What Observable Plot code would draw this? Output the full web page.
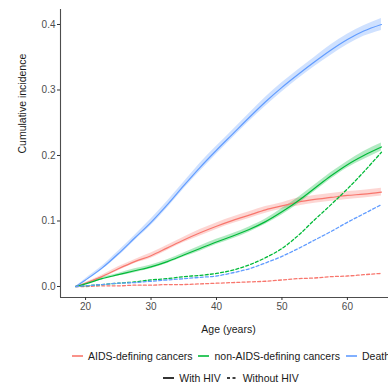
<!DOCTYPE html>
<html>
<head>
<meta charset="utf-8">
<script src="https://cdn.jsdelivr.net/npm/d3@7"></script>
<script src="https://cdn.jsdelivr.net/npm/@observablehq/plot@0.6"></script>
<style>
  html, body { margin: 0; padding: 0; background: #fff; overflow: hidden; width: 388px; height: 383px; }
  #wrap { position: relative; width: 462px; font-family: "Liberation Sans", Arial, sans-serif; }
  .row { display: flex; justify-content: center; align-items: center; font-size: 10.5px; color: #1a1a1a; white-space: nowrap; height: 22px; }
  .item { display: flex; align-items: center; margin: 0 3px; }
  .item svg { margin-right: 5px; }
</style>
</head>
<body>
<div id="wrap">
  <div id="chart"></div>
  <div id="legend"></div>
</div>
<script>
// ---- data ----
const ages = [18.5, 20, 22.5, 25, 27.5, 30, 32.5, 35, 37.5, 40, 42.5, 45, 47.5, 50, 52.5, 55, 57.5, 60, 62.5, 65.2];

const outcomes = ["AIDS-defining cancers", "non-AIDS-defining cancers", "Death"];
const outcomeColors = ["#F8766D", "#00BA38", "#619CFF"];
const groups = ["With HIV", "Without HIV"];
const xTitle = "Age (years)";
const yTitle = "Cumulative incidence";

// With HIV
const aidsHIV    = [0, 0.005, 0.015, 0.027, 0.038, 0.047, 0.059, 0.071, 0.082, 0.092, 0.101, 0.109, 0.117, 0.123, 0.129, 0.133, 0.136, 0.139, 0.141, 0.144];
const nonAidsHIV = [0, 0.004, 0.012, 0.018, 0.024, 0.030, 0.038, 0.048, 0.058, 0.068, 0.077, 0.087, 0.099, 0.114, 0.131, 0.150, 0.169, 0.186, 0.200, 0.213];
const deathHIV   = [0, 0.010, 0.028, 0.050, 0.074, 0.098, 0.125, 0.154, 0.182, 0.208, 0.233, 0.258, 0.282, 0.304, 0.324, 0.343, 0.361, 0.377, 0.390, 0.400];

// Confidence band half-widths (with HIV)
const aidsCI    = [0, 0.001, 0.002, 0.003, 0.003, 0.004, 0.004, 0.004, 0.005, 0.005, 0.005, 0.005, 0.005, 0.005, 0.006, 0.006, 0.006, 0.006, 0.006, 0.006];
const nonAidsCI = [0, 0.001, 0.002, 0.002, 0.003, 0.003, 0.003, 0.003, 0.004, 0.004, 0.004, 0.004, 0.004, 0.005, 0.005, 0.005, 0.005, 0.005, 0.006, 0.006];
const deathCI   = [0, 0.002, 0.003, 0.004, 0.004, 0.005, 0.005, 0.005, 0.006, 0.006, 0.006, 0.006, 0.007, 0.007, 0.007, 0.007, 0.008, 0.008, 0.008, 0.009];

// Without HIV
const aidsNoHIV    = [0, 0.000, 0.001, 0.001, 0.002, 0.002, 0.003, 0.003, 0.004, 0.005, 0.006, 0.007, 0.008, 0.010, 0.012, 0.013, 0.015, 0.016, 0.018, 0.020];
const nonAidsNoHIV = [0, 0.001, 0.003, 0.005, 0.007, 0.010, 0.012, 0.015, 0.017, 0.020, 0.025, 0.033, 0.044, 0.058, 0.078, 0.102, 0.125, 0.149, 0.175, 0.205];
const deathNoHIV   = [0, 0.001, 0.003, 0.005, 0.006, 0.008, 0.010, 0.012, 0.014, 0.016, 0.021, 0.027, 0.036, 0.046, 0.058, 0.071, 0.084, 0.098, 0.111, 0.125];

const yTicks = [0.0, 0.1, 0.2, 0.3, 0.4];
const xTicks = [20, 30, 40, 50, 60];

// ---- build tidy table ----
const hivSeries = [aidsHIV, nonAidsHIV, deathHIV];
const hivCI = [aidsCI, nonAidsCI, deathCI];
const noSeries = [aidsNoHIV, nonAidsNoHIV, deathNoHIV];
const rows = [];
outcomes.forEach((o, i) => {
  ages.forEach((a, j) => {
    rows.push({age: a, outcome: o, group: "With HIV", v: hivSeries[i][j], lo: hivSeries[i][j] - hivCI[i][j], hi: hivSeries[i][j] + hivCI[i][j]});
    rows.push({age: a, outcome: o, group: "Without HIV", v: noSeries[i][j]});
  });
});
const withHIV = rows.filter(d => d.group === "With HIV");
const withoutHIV = rows.filter(d => d.group === "Without HIV");

const xDomain = [16.17, 67.5];
const yDomain = [-0.0168, 0.4229];

const chart = Plot.plot({
  width: 400,
  height: 345,
  marginTop: 9,
  marginBottom: 48,
  marginLeft: 60,
  marginRight: 4,
  style: {fontFamily: "'Liberation Sans', Arial, sans-serif", fontSize: "10px", background: "#fff"},
  x: {domain: xDomain},
  y: {domain: yDomain},
  color: {domain: outcomes, range: outcomeColors},
  marks: [
    Plot.areaY(withHIV, {x: "age", y1: "lo", y2: "hi", z: "outcome", fill: "outcome", fillOpacity: 0.3, curve: "monotone-x"}),
    Plot.lineY(withHIV, {x: "age", y: "v", z: "outcome", stroke: "outcome", strokeWidth: 1.2, curve: "monotone-x"}),
    Plot.lineY(withoutHIV, {x: "age", y: "v", z: "outcome", stroke: "outcome", strokeWidth: 1.3, strokeDasharray: "3,2.2", curve: "monotone-x"}),
    Plot.ruleX([xDomain[0]], {stroke: "#4d4d4d", strokeWidth: 1.1}),
    Plot.ruleY([yDomain[0]], {stroke: "#4d4d4d", strokeWidth: 1.1}),
    Plot.axisX({ticks: xTicks, tickSize: 3, tickPadding: 2, stroke: "#333", color: "#4d4d4d", fontSize: 10, label: null}),
    Plot.axisY({ticks: yTicks, tickFormat: d3.format(".1f"), tickSize: 3, tickPadding: 2, stroke: "#333", color: "#4d4d4d", fontSize: 10, label: null}),
    Plot.text([xTitle], {frameAnchor: "bottom", dy: 35, text: d => d, fill: "#1a1a1a", fontSize: 10.5, fontWeight: "normal"}),
    Plot.text([yTitle], {frameAnchor: "left", dx: -38, rotate: -90, text: d => d, fill: "#1a1a1a", fontSize: 10.5, fontWeight: "normal"})
  ]
});
document.getElementById("chart").appendChild(chart);

// ---- legend ----
const legend = document.getElementById("legend");
function key(color, dash) {
  return `<svg width="11" height="10"><line x1="0" x2="11" y1="5" y2="5" stroke="${color}" stroke-width="1.6" ${dash ? 'stroke-dasharray="3,2.5"' : ''}/></svg>`;
}
const row1 = document.createElement("div");
row1.className = "row";
row1.innerHTML = outcomes.map((o, i) => `<span class="item">${key(outcomeColors[i], false)}<span>${o}</span></span>`).join("");
const row2 = document.createElement("div");
row2.className = "row";
row2.innerHTML = groups.map((g, i) => `<span class="item">${key("#000", i === 1)}<span>${g}</span></span>`).join("");
legend.appendChild(row1);
legend.appendChild(row2);
</script>
</body>
</html>
